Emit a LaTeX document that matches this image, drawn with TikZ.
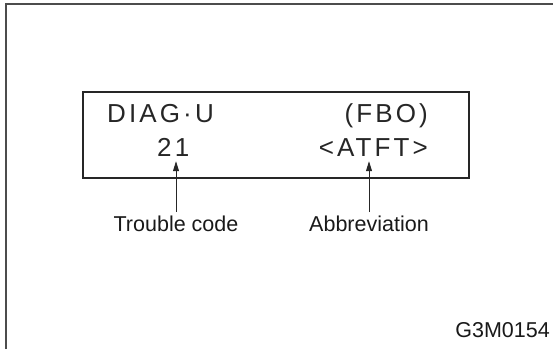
\documentclass[tikz,border=0pt]{standalone}
\usepackage{fontspec}
\setmainfont{Liberation Sans}
\newfontfamily\lcdfont[LetterSpace=12]{Liberation Sans}
\usetikzlibrary{arrows.meta,positioning}

\begin{document}
\begin{tikzpicture}[
    x=1pt, y=-1pt,
    frame/.style={draw=black!70, line width=1.5pt},
    display/.style={draw=black!85, line width=1.1pt},
    lcd/.style={inner sep=0pt, font=\lcdfont\fontsize{26}{28}\selectfont, text=black!85},
    lbl/.style={inner sep=0pt, font=\fontsize{21.5}{24}\selectfont, text=black!90},
    arr/.style={-{Triangle[length=10pt, width=6pt]}, line width=0.8pt, black!85},
  ]
    \useasboundingbox (0,0) rectangle (553,349);

    % Frame
    \draw[frame] (6,349) -- (6,4) -- (553,4);

    % Display
    \draw[display] (83,92) rectangle (469,178);
    \node[lcd, anchor=base west] (mode) at (107,122) {DIAG·U};
    \node[lcd, anchor=base east] (unit) at (428,122) {(FBO)};
    \node[lcd, anchor=base west] (code) at (157,156) {21};
    \node[lcd, anchor=base east] (abbr) at (428,156) {<ATFT>};

    % Labels
    \node[lbl, anchor=base] (codelbl) at (176,231) {Trouble code};
    \node[lbl, anchor=base] (abbrlbl) at (369,231) {Abbreviation};
    \node[lbl, anchor=base east] (figno) at (550,337) {G3M0154};

    % Arrows
    \draw[arr, shorten <=3pt, shorten >=5pt] (codelbl.north) -- (codelbl.north |- code.south);
    \draw[arr, shorten <=3pt, shorten >=5pt] (abbrlbl.north) -- (abbrlbl.north |- abbr.south);
  \end{tikzpicture}
\end{document}
